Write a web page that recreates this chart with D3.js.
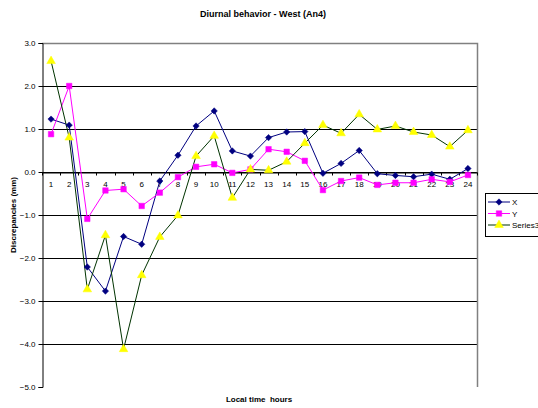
<!DOCTYPE html>
<html>
<head>
<meta charset="utf-8">
<script src="https://cdn.jsdelivr.net/npm/d3@7/dist/d3.min.js"></script>
<style>
  html, body { margin: 0; padding: 0; background: #fff; }
  svg { display: block; font-family: "Liberation Sans", Arial, sans-serif; }
</style>
</head>
<body>
<svg id="chart" width="538" height="408"></svg>
<script>
// Hourly discrepancies (mm) at the West station (An4)
const hours = d3.range(1, 25);
const seriesX = [1.23, 1.09, -2.21, -2.77, -1.50, -1.68, -0.21, 0.39, 1.07, 1.42, 0.49, 0.37,
                 0.80, 0.93, 0.94, -0.03, 0.20, 0.50, -0.04, -0.08, -0.11, -0.05, -0.17, 0.08];
const seriesY = [0.88, 2.00, -1.09, -0.43, -0.40, -0.79, -0.48, -0.12, 0.12, 0.18, -0.02, 0.06,
                 0.53, 0.47, 0.26, -0.42, -0.21, -0.13, -0.30, -0.25, -0.25, -0.17, -0.23, -0.07];
const series3 = [2.58, 0.80, -2.73, -1.47, -4.12, -2.40, -1.51, -1.01, 0.37, 0.84, -0.60, 0.06,
                 0.04, 0.24, 0.67, 1.09, 0.90, 1.34, 0.99, 1.07, 0.93, 0.86, 0.59, 0.97];
const yTicks = [3, 2, 1, 0, -1, -2, -3, -4, -5];
const seriesNames = ["X", "Y", "Series3"];

const svg = d3.select("#chart");
const plot = { left: 42, right: 477, top: 43, bottom: 387 };

const x = d3.scaleBand().domain(hours).range([plot.left, plot.right]);
const y = d3.scaleLinear().domain([-5, 3]).range([plot.bottom, plot.top]);

// Title
svg.append("text").attr("x", 263).attr("y", 17).attr("text-anchor", "middle")
  .attr("font-size", 9).attr("font-weight", "bold").text("Diurnal behavior - West (An4)");

// Horizontal gridlines
svg.append("g").selectAll("line").data(yTicks.filter(d => d !== 3 && d !== -5)).join("line")
  .attr("x1", plot.left).attr("x2", plot.right)
  .attr("y1", d => Math.round(y(d)) + 0.5).attr("y2", d => Math.round(y(d)) + 0.5)
  .attr("stroke", "#000").attr("stroke-width", 1);

// Plot frame: top and right edges
svg.append("path")
  .attr("d", `M${plot.left},${plot.top + 0.5}H${plot.right + 0.5}V${plot.bottom}`)
  .attr("fill", "none").attr("stroke", "#808080").attr("stroke-width", 1.5);

// Value axis
const yAxis = d3.axisLeft(y).tickValues(yTicks).tickSize(4).tickFormat(d3.format(".1f"));
const gy = svg.append("g").attr("transform", `translate(${plot.left + 0.5},0)`).call(yAxis);
gy.select(".domain").attr("stroke", "#000");
gy.selectAll(".tick line").attr("stroke", "#000");
gy.selectAll(".tick text").attr("font-size", 8).attr("fill", "#000")
  .attr("font-family", "Liberation Sans, Arial, sans-serif");

// Category axis crossing at zero
const xAxis = d3.axisBottom(x).tickSize(0).tickPadding(9);
const gx = svg.append("g").attr("transform", `translate(0,${Math.round(y(0)) + 0.5})`).call(xAxis);
gx.select(".domain").attr("stroke", "#000");
gx.selectAll(".tick text").attr("font-size", 8).attr("fill", "#000")
  .attr("font-family", "Liberation Sans, Arial, sans-serif");
gx.append("g").selectAll("line").data(d3.range(0, 25)).join("line")
  .attr("x1", i => Math.round(plot.left + i * x.step()) + 0.5)
  .attr("x2", i => Math.round(plot.left + i * x.step()) + 0.5)
  .attr("y1", 0).attr("y2", 3).attr("stroke", "#000");

// Axis titles
svg.append("text").attr("transform", `translate(16,${(plot.top + plot.bottom) / 2}) rotate(-90)`)
  .attr("text-anchor", "middle").attr("font-size", 8).attr("font-weight", "bold")
  .text("Discrepancies (mm)");
svg.append("text").attr("x", 259).attr("y", 402).attr("text-anchor", "middle")
  .attr("font-size", 8).attr("font-weight", "bold").style("white-space", "pre")
  .text("Local time  hours");

// Series lines and markers
const cx = (d, i) => x(hours[i]) + x.bandwidth() / 2;
const line = d3.line().x(cx).y(d => y(d));

// Even-sided diamond marker (a square turned 45 degrees)
const diamond = () => "M0,-3.2L3.2,0L0,3.2L-3.2,0Z";
const square = d3.symbol().type(d3.symbolSquare).size(30);
const triangle = d3.symbol().type(d3.symbolTriangle).size(32);

const defs = [
  { name: seriesNames[0], data: seriesX, stroke: "#000080", fill: "#000080", mstroke: "#000080", sym: diamond },
  { name: seriesNames[1], data: seriesY, stroke: "#FF00FF", fill: "#FF00FF", mstroke: "#FF00FF", sym: square },
  { name: seriesNames[2], data: series3, stroke: "#003300", fill: "#FFFF00", mstroke: "#FFFF00", sym: triangle }
];

defs.forEach(s => {
  svg.append("path").datum(s.data).attr("d", line)
    .attr("fill", "none").attr("stroke", s.stroke).attr("stroke-width", 1);
});
defs.forEach(s => {
  svg.append("g").selectAll("path").data(s.data).join("path")
    .attr("d", s.sym)
    .attr("transform", (d, i) => `translate(${cx(d, i)},${y(d)})`)
    .attr("fill", s.fill).attr("stroke", s.mstroke).attr("stroke-width", 0.5);
});

// Legend
const lg = svg.append("g");
lg.append("rect").attr("x", 485.5).attr("y", 193.5).attr("width", 60).attr("height", 43)
  .attr("fill", "#fff").attr("stroke", "#000").attr("stroke-width", 1);
defs.forEach((s, i) => {
  const ly = 202 + i * 11.5;
  lg.append("line").attr("x1", 488).attr("x2", 510).attr("y1", ly).attr("y2", ly)
    .attr("stroke", s.stroke).attr("stroke-width", 1);
  lg.append("path").attr("d", s.sym).attr("transform", `translate(499,${ly})`)
    .attr("fill", s.fill).attr("stroke", s.mstroke).attr("stroke-width", 0.5);
  lg.append("text").attr("x", 512).attr("y", ly + 3).attr("font-size", 8).text(s.name);
});
</script>
</body>
</html>
